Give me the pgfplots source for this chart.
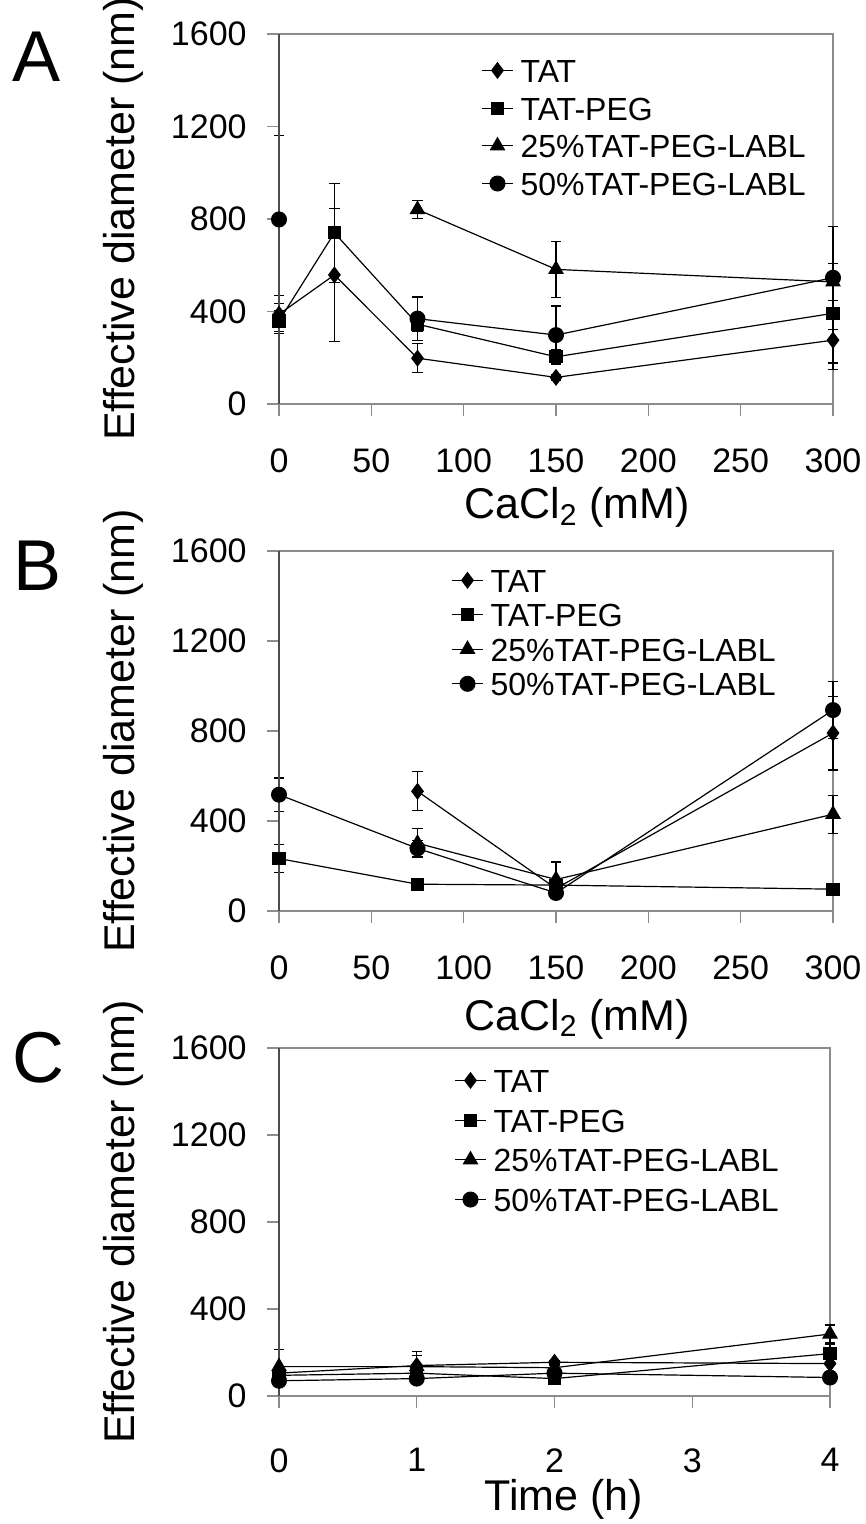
\documentclass[border=0pt]{standalone}
\usepackage{fontspec}
\setmainfont{Liberation Sans}
\usepackage{pgfplots}
\pgfplotsset{compat=1.18}
\usepackage{pgfplotstable}

% Panel A
\pgfplotstableread{
x y e
0 388 82
30 558 287
75 198 63
150 115 12
300 276 128
}\ATat
\pgfplotstableread{
x y e
0 359 45
30 740 215
75 345 30
150 204 30
300 392 215
}\APeg
\pgfplotstableread{
x y e
75 841 40
150 582 121
300 528 79
}\ATwf
\pgfplotstableread{
x y e
0 798 362
30 nan 0
75 369 94
150 298 126
300 546 223
}\AFif
% Panel B
\pgfplotstableread{
x y e
75 532 87
150 100 10
300 791 164
}\BTat
\pgfplotstableread{
x y e
0 233 62
75 119 10
150 115 10
300 97 10
}\BPeg
\pgfplotstableread{
x y e
75 301 64
150 140 78
300 430 85
}\BTwf
\pgfplotstableread{
x y e
0 517 74
75 278 35
150 80 10
300 893 126
}\BFif
% Panel C
\pgfplotstableread{
x y e
0 105 10
1 140 45
2 155 10
4 149 10
}\CTat
\pgfplotstableread{
x y e
0 95 10
1 105 10
2 80 10
4 195 40
}\CPeg
\pgfplotstableread{
x y e
0 135 80
1 135 70
2 130 10
4 285 41
}\CTwf
\pgfplotstableread{
x y e
0 70 10
1 80 10
2 105 10
4 85 10
}\CFif

\pgfplotsset{
  panel/.style={
    scale only axis,
    xmin=0, ymin=0, ymax=1600,
    ytick={0,400,800,1200,1600},
    tick align=outside, tick pos=left,
    major tick length=6pt,
    tick style={black!45, line width=0.6pt},
    axis line style={black!45, line width=0.6pt},
    ticklabel style={font=\fontsize{17}{20}\selectfont},
    /pgf/number format/assume math mode=true,
    /pgf/number format/1000 sep={},
    yticklabel style={inner sep=0pt, xshift=-10pt},
    xticklabel style={inner sep=0pt},
    label style={font=\fontsize{21.5}{25}\selectfont},
    ylabel={Effective diameter (nm)},
    ylabel style={at={(axis description cs:-0.2816,0.5)}, anchor=center},
    legend cell align=left,
    legend style={draw=none, fill=none, inner sep=0pt, anchor=north west,
      font=\fontsize{16}{19}\selectfont,
      nodes={inner sep=0pt, text height=12pt, text depth=0pt},
      column sep=3.5pt},
    legend image code/.code={\draw[mark repeat=2, mark phase=2] plot coordinates {(0pt,0pt) (7.75pt,0pt) (15.5pt,0pt)};},
    clip=false,
    unbounded coords=jump,
  },
  ser/.style={black, line width=0.6pt, mark options={solid, fill=black, draw=black},
    error bars/y dir=both, error bars/y explicit,
    error bars/error bar style={line width=0.6pt, black},
    error bars/error mark options={rotate=90, mark size=2.6pt, line width=0.6pt, black}},
  mTAT/.style={mark=diamond*, mark size=3.8pt},
  mPEG/.style={mark=square*, mark size=3pt},
  mTwf/.style={mark=triangle*, mark size=4pt},
  mFif/.style={mark=*, mark size=3.7pt},
}

\begin{document}
\begin{tikzpicture}
\path[use as bounding box] (0,0) rectangle (433pt,762pt);

% ---------- A ----------
\begin{axis}[panel,
  at={(139.5pt,560pt)}, anchor=south west,
  width=277pt, height=185pt,
  xmax=300, xtick={0,50,100,150,200,250,300},
  xticklabel style={yshift=-16pt},
  xlabel={CaCl\textsubscript{2} (mM)},
  xlabel style={at={(axis description cs:0.538,-0.28)}, anchor=center},
  legend style={at={(axis description cs:0.3646,0.935)}, row sep=6.85pt},
]
\addplot[ser, mTAT] table[x=x,y=y,y error=e]{\ATat};
\addplot[ser, mPEG] table[x=x,y=y,y error=e]{\APeg};
\addplot[ser, mTwf] table[x=x,y=y,y error=e]{\ATwf};
\addplot[ser, mFif] table[x=x,y=y,y error=e]{\AFif};
\legend{TAT, TAT-PEG, 25\%TAT-PEG-LABL, 50\%TAT-PEG-LABL}
\draw[black!70, line width=0.6pt] (rel axis cs:0,0) -- (rel axis cs:0,1);
\end{axis}

% ---------- B ----------
\begin{axis}[panel,
  at={(139.5pt,306.5pt)}, anchor=south west,
  width=277pt, height=180pt,
  xmax=300, xtick={0,50,100,150,200,250,300},
  xticklabel style={yshift=-16pt},
  xlabel={CaCl\textsubscript{2} (mM)},
  xlabel style={at={(axis description cs:0.538,-0.30)}, anchor=center},
  legend style={at={(axis description cs:0.3105,0.953)}, row sep=5.25pt},
]
\addplot[ser, mTAT] table[x=x,y=y,y error=e]{\BTat};
\addplot[ser, mPEG] table[x=x,y=y,y error=e]{\BPeg};
\addplot[ser, mTwf] table[x=x,y=y,y error=e]{\BTwf};
\addplot[ser, mFif] table[x=x,y=y,y error=e]{\BFif};
\legend{TAT, TAT-PEG, 25\%TAT-PEG-LABL, 50\%TAT-PEG-LABL}
\draw[black!70, line width=0.6pt] (rel axis cs:0,0) -- (rel axis cs:0,1);
\end{axis}

% ---------- C ----------
\begin{axis}[panel,
  at={(139.5pt,64pt)}, anchor=south west,
  width=275.5pt, height=174pt,
  xmax=4, xtick={0,1,2,3,4},
  xticklabel style={yshift=-20pt},
  xlabel={Time (h)},
  xlabel style={at={(axis description cs:0.517,-0.297)}, anchor=center},
  legend style={at={(axis description cs:0.3176,0.9424)}, row sep=7.85pt},
]
\addplot[ser, mTAT] table[x=x,y=y,y error=e]{\CTat};
\addplot[ser, mPEG] table[x=x,y=y,y error=e]{\CPeg};
\addplot[ser, mTwf] table[x=x,y=y,y error=e]{\CTwf};
\addplot[ser, mFif] table[x=x,y=y,y error=e]{\CFif};
\legend{TAT, TAT-PEG, 25\%TAT-PEG-LABL, 50\%TAT-PEG-LABL}
\draw[black!70, line width=0.6pt] (rel axis cs:0,0) -- (rel axis cs:0,1);
\end{axis}

\node[font=\fontsize{36}{40}\selectfont, inner sep=0pt] at (18.5pt,733.5pt) {A};
\node[font=\fontsize{36}{40}\selectfont, inner sep=0pt] at (19pt,479pt) {B};
\node[font=\fontsize{36}{40}\selectfont, inner sep=0pt] at (19pt,233pt) {C};
\end{tikzpicture}
\end{document}
